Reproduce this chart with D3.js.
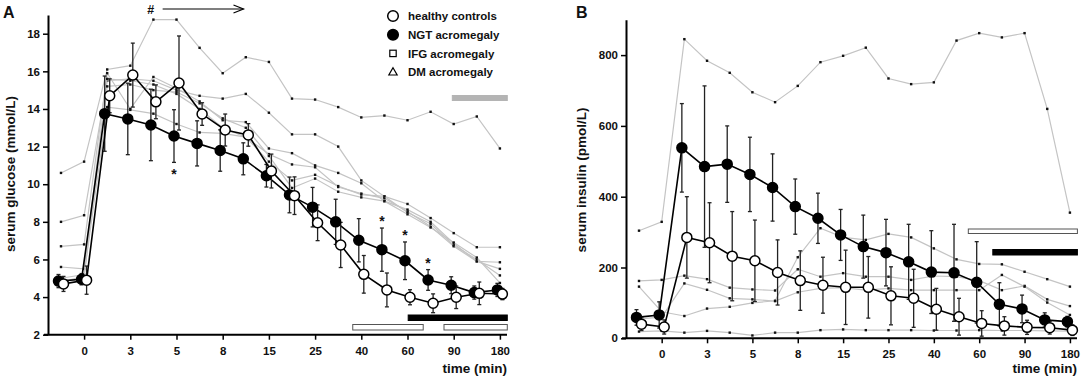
<!DOCTYPE html>
<html>
<head>
<meta charset="utf-8">
<title>OGTT glucose and insulin</title>
<script src="https://d3js.org/d3.v7.min.js"></script>
<style>
  body { margin: 0; background: #fff; }
  text { font-family: "Liberation Sans", Arial, sans-serif; font-weight: bold; fill: #111; }
</style>
</head>
<body>
<script>
// sampling times (min), ticks are labelled every other point
const times = ["-10", "0", "1.5", "3", "4", "5", "6.5", "8", "10", "15", "20", "25", "30", "40", "50", "60", "75", "90", "120", "180"];
const tickTimes = ["0", "3", "5", "8", "15", "25", "40", "60", "90", "180"];

// A: serum glucose (mmol/L)
const glucoseNGT   = [4.85, 4.95, 13.75, 13.47, 13.15, 12.56, 12.17, 11.79, 11.35, 10.45, 9.43, 8.78, 8.0, 7.02, 6.52, 5.93, 4.91, 4.63, 4.24, 4.38];
const glucoseNGTsd = [0.35, 0.3, 2.0, 1.9, 1.9, 1.4, 1.2, 1.1, 0.85, 0.6, 0.95, 1.05, 1.2, 1.15, 1.15, 1.0, 0.55, 0.45, 0.35, 0.35];
const glucoseHC    = [4.7, 4.9, 14.7, 15.8, 14.38, 15.38, 13.73, 12.88, 12.62, 10.7, 9.39, 7.95, 6.77, 5.21, 4.38, 3.99, 3.67, 3.99, 4.2, 4.16];
const glucoseHCsd  = [0.4, 0.75, 0.9, 1.7, 0.9, 2.5, 0.6, 0.85, 0.6, 0.9, 1.0, 0.95, 1.2, 1.0, 0.9, 0.4, 0.5, 0.6, 0.6, 0.3];
const glucosePatients = [
  [10.6, 11.2, 16.1, 16.3, 18.75, 18.75, 17.25, 15.9, 16.75, 16.5, 14.55, 14.5, 14.1, 13.55, 13.65, 13.4, 13.85, 13.2, 13.6, 11.9],
  [8.0, 8.35, 15.5, 15.6, 15.5, 15.0, 14.7, 14.55, 14.8, 13.8, 12.65, 12.65, 12.0, 10.2, 9.35, 8.95, 8.2, 7.4, 6.65, 6.65],
  [6.7, 6.8, 15.9, 14.0, 15.7, 15.1, 14.4, 13.4, 13.3, 11.9, 11.65, 11.0, 10.6, 10.05, 9.1, 8.65, 8.0, 6.85, 5.9, 5.85],
  [5.6, 5.5, 15.6, 15.5, 15.3, 14.8, 14.0, 13.0, 12.5, 11.6, 11.05, 10.9, 9.85, 9.5, 9.25, 8.55, 7.75, 6.7, 5.9, 5.5],
  [5.0, 5.2, 14.1, 13.95, 13.75, 13.2, 12.75, 12.7, 12.5, 11.2, 10.2, 10.5, 9.9, 9.45, 9.35, 8.5, 7.9, 6.75, 6.0, 5.15],
  [4.8, 5.1, 15.2, 15.3, 15.0, 14.9, 14.3, 13.5, 13.0, 11.5, 9.8, 10.3, 9.6, 9.3, 9.1, 8.4, 7.7, 6.9, 6.1, 4.75]
];
const glucoseStarsBelow = [5];
const glucoseStarsAbove = [14, 15, 16];
// significance bars, in point-index units [from, to]
const glucoseGrayBar  = [16.94, 19.32];
const glucoseBlackBar = [15.03, 19.32];
const glucoseWhiteBars = [[12.63, 15.68], [16.58, 19.32]];
const glucoseArrow = [4.4, 7.9];

// B: serum insulin (pmol/L)
const insulinNGT   = [59, 66, 538, 485, 492, 463, 426, 372, 339, 292, 259, 242, 216, 187, 185, 158, 96, 83, 52, 47];
const insulinNGTsd = [22, 37, 125, 228, 108, 105, 95, 78, 71, 72, 89, 94, 106, 117, 137, 115, 61, 39, 20, 15];
const insulinHC    = [40, 32, 285, 270, 232, 219, 186, 163, 150, 144, 144, 120, 113, 82, 61, 42, 35, 31, 30, 23];
const insulinHCsd  = [18, 20, 115, 113, 126, 115, 92, 84, 79, 105, 87, 82, 82, 59, 52, 36, 26, 20, 18, 15];
const insulinPatients = [
  [304, 329, 845, 784, 750, 695, 667, 713, 780, 798, 821, 734, 718, 723, 841, 862, 850, 862, 648, 355],
  [146, 75, 63, 84, 89, 100, 106, 229, 311, 285, 278, 295, 285, 254, 223, 210, 209, 188, 167, 146],
  [162, 165, 177, 167, 143, 138, 135, 195, 174, 184, 174, 174, 165, 176, 174, 163, 136, 148, 110, 91],
  [55, 60, 155, 137, 113, 110, 105, 130, 141, 143, 136, 141, 136, 136, 136, 136, 179, 146, 101, 66],
  [19, 21, 16, 21, 16, 8, 16, 16, 23, 25, 23, 23, 23, 22, 22, 23, 22, 22, 21, 20]
];
const insulinWhiteBar = [14.52, 19.33];
const insulinBlackBar = [15.6, 19.33];

const W = 1084, H = 378;
const svg = d3.select("body").append("svg").attr("width", W).attr("height", H);

function drawPanel(o) {
  const g = svg.append("g");
  const x = d3.scalePoint().domain(times).range([o.x0, o.x1]);
  const xi = i => x(times[0]) + i * x.step();
  const y = d3.scaleLinear().domain(o.yDomain).range([o.yBottom, o.yTop]);

  // axes
  g.append("g")
    .attr("transform", "translate(" + o.axisX + ",0)")
    .call(d3.axisLeft(y).tickValues(o.yTicks).tickSize(5).tickSizeOuter(0).tickPadding(3))
    .call(a => a.selectAll("text").style("font-size", "11.5px"));
  const xa = g.append("g")
    .attr("transform", "translate(0," + o.yBottom + ")")
    .call(d3.axisBottom(x).tickValues(tickTimes).tickSize(5).tickPadding(7));
  xa.select(".domain").remove();
  xa.selectAll("text").style("font-size", "11.5px");
  g.append("line").attr("x1", o.axisX - 4).attr("x2", o.xEnd)
    .attr("y1", o.yBottom).attr("y2", o.yBottom)
    .attr("stroke", "#000").attr("stroke-width", 2);
  g.selectAll(".domain").attr("stroke-width", 2);
  g.selectAll(".tick line").attr("stroke-width", 1.5);

  // individual patients
  const line = d3.line().x((d, i) => x(times[i])).y(d => y(d));
  o.patients.forEach(p => {
    g.append("path").attr("d", line(p)).attr("fill", "none")
      .attr("stroke", "#c4c4c4").attr("stroke-width", 1.2);
    g.selectAll(null).data(p).enter().append("rect")
      .attr("x", (d, i) => x(times[i]) - 1.2).attr("y", d => y(d) - 1.2)
      .attr("width", 2.4).attr("height", 2.4).attr("fill", "#111");
  });

  // group means with SD
  function series(vals, sd, dx, fill) {
    const sx = i => x(times[i]) + dx;
    vals.forEach((v, i) => {
      const top = y(v + sd[i]), bot = y(v - sd[i]);
      g.append("line").attr("x1", sx(i)).attr("x2", sx(i)).attr("y1", top).attr("y2", bot)
        .attr("stroke", "#222").attr("stroke-width", 1.3);
      [top, bot].forEach(yy => g.append("line").attr("x1", sx(i) - 2).attr("x2", sx(i) + 2)
        .attr("y1", yy).attr("y2", yy).attr("stroke", "#222").attr("stroke-width", 1.3));
    });
    g.append("path").attr("d", d3.line().x((d, i) => sx(i)).y(d => y(d))(vals))
      .attr("fill", "none").attr("stroke", "#000").attr("stroke-width", 1.6);
    return { sx: sx, draw: () => g.selectAll(null).data(vals).enter().append("circle")
      .attr("cx", (d, i) => sx(i)).attr("cy", d => y(d)).attr("r", 5)
      .attr("fill", fill).attr("stroke", "#000").attr("stroke-width", 1.5) };
  }
  const ngt = series(o.ngt, o.ngtSd, -2.5, "#000");
  const hc = series(o.hc, o.hcSd, 2.5, "#fff");
  ngt.draw();
  hc.draw();

  (o.starsBelow || []).forEach(i => g.append("text").attr("x", ngt.sx(i)).attr("y", y(o.ngt[i] - o.ngtSd[i]) + 17)
    .attr("text-anchor", "middle").style("font-size", "14px").text("*"));
  (o.starsAbove || []).forEach(i => g.append("text").attr("x", ngt.sx(i)).attr("y", y(o.ngt[i] + o.ngtSd[i]) - 2)
    .attr("text-anchor", "middle").style("font-size", "14px").text("*"));

  // significance bars
  o.bars.forEach(b => g.append("rect").attr("x", xi(b.range[0])).attr("y", b.y)
    .attr("width", xi(b.range[1]) - xi(b.range[0])).attr("height", b.h)
    .attr("fill", b.fill).attr("stroke", b.stroke).attr("stroke-width", 1));

  // titles
  g.append("text").attr("x", o.xEnd).attr("y", 373).attr("text-anchor", "end")
    .style("font-size", "13.5px").text("time (min)");
  g.append("text").attr("transform", "translate(" + o.titleX + "," + o.titleY + ") rotate(-90)")
    .attr("text-anchor", "middle").style("font-size", "13.5px").text(o.yTitle);
  g.append("text").attr("x", o.letterX).attr("y", 18).style("font-size", "16px").text(o.letter);
  return { g: g, xi: xi };
}

const pA = drawPanel({
  x0: 61, x1: 61 + 19 * 23.1, axisX: 48, xEnd: 507,
  yDomain: [2, 19], yTop: 14.9, yBottom: 334.7, yTicks: d3.range(2, 19, 2),
  patients: glucosePatients,
  ngt: glucoseNGT, ngtSd: glucoseNGTsd, hc: glucoseHC, hcSd: glucoseHCsd,
  starsBelow: glucoseStarsBelow, starsAbove: glucoseStarsAbove,
  bars: [
    { range: glucoseGrayBar, y: 95.5, h: 5, fill: "#b4b4b4", stroke: "#b4b4b4" },
    { range: glucoseBlackBar, y: 315, h: 5.5, fill: "#000", stroke: "#000" },
    { range: glucoseWhiteBars[0], y: 324.5, h: 5.5, fill: "#fff", stroke: "#555" },
    { range: glucoseWhiteBars[1], y: 324.5, h: 5.5, fill: "#fff", stroke: "#555" }
  ],
  titleX: 15, titleY: 174, yTitle: "serum glucose (mmol/L)", letterX: 3, letter: "A"
});

// "#" with arrow over the early glucose phase
pA.g.append("text").attr("x", pA.xi(glucoseArrow[0]) - 12).attr("y", 13.5)
  .attr("text-anchor", "middle").style("font-size", "12.5px").text("#");
pA.g.append("line").attr("x1", pA.xi(glucoseArrow[0])).attr("x2", pA.xi(glucoseArrow[1]))
  .attr("y1", 9).attr("y2", 9).attr("stroke", "#000").attr("stroke-width", 1.2);
pA.g.append("path")
  .attr("d", "M" + (pA.xi(glucoseArrow[1]) - 10) + ",5 L" + pA.xi(glucoseArrow[1]) + ",9 L" + (pA.xi(glucoseArrow[1]) - 10) + ",13")
  .attr("fill", "none").attr("stroke", "#000").attr("stroke-width", 1.2);

// legend
const legend = [
  { label: "healthy controls", shape: "circle", fill: "#fff" },
  { label: "NGT acromegaly", shape: "circle", fill: "#000" },
  { label: "IFG acromegaly", shape: "square", fill: "#fff" },
  { label: "DM acromegaly", shape: "triangle", fill: "#fff" }
];
const lg = svg.append("g").attr("transform", "translate(393,16)");
legend.forEach((d, i) => {
  const yy = i * 18.7;
  if (d.shape === "circle") {
    lg.append("circle").attr("cx", 0).attr("cy", yy).attr("r", 5.3)
      .attr("fill", d.fill).attr("stroke", "#000").attr("stroke-width", 1.5);
  } else if (d.shape === "square") {
    lg.append("rect").attr("x", -3.2).attr("y", yy - 3.2).attr("width", 6.4).attr("height", 6.4)
      .attr("fill", "#fff").attr("stroke", "#000").attr("stroke-width", 1.2);
  } else {
    lg.append("path").attr("d", d3.symbol().type(d3.symbolTriangle).size(30)())
      .attr("transform", "translate(0," + (yy + 0.5) + ")")
      .attr("fill", "#fff").attr("stroke", "#000").attr("stroke-width", 1.2);
  }
  lg.append("text").attr("x", 15).attr("y", yy + 4.3).style("font-size", "11.5px").text(d.label);
});

drawPanel({
  x0: 639, x1: 639 + 19 * 22.68, axisX: 626, xEnd: 1077,
  yDomain: [0, 900], yTop: 19.7, yBottom: 338.3, yTicks: d3.range(0, 801, 200),
  patients: insulinPatients,
  ngt: insulinNGT, ngtSd: insulinNGTsd, hc: insulinHC, hcSd: insulinHCsd,
  bars: [
    { range: insulinWhiteBar, y: 229, h: 4.5, fill: "#fff", stroke: "#555" },
    { range: insulinBlackBar, y: 249.5, h: 5.5, fill: "#000", stroke: "#000" }
  ],
  titleX: 586, titleY: 180, yTitle: "serum insulin (pmol/L)", letterX: 576, letter: "B"
});
</script>
</body>
</html>
